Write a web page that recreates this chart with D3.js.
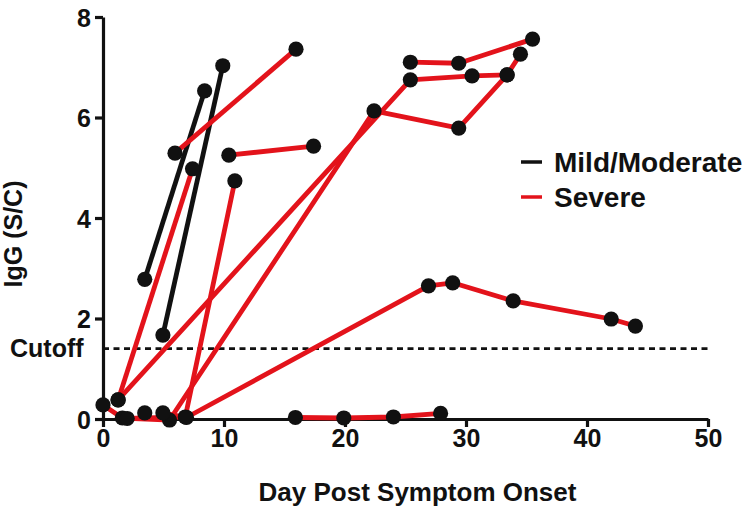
<!DOCTYPE html>
<html>
<head>
<meta charset="utf-8">
<script src="https://cdn.jsdelivr.net/npm/d3@7"></script>
<style>
  html, body { margin: 0; padding: 0; background: #ffffff; }
  svg { display: block; }
  text { font-family: "Liberation Sans", Arial, Helvetica, sans-serif; font-weight: bold; fill: #111; }
</style>
</head>
<body>
<svg id="chart" width="751" height="525"></svg>
<script>
// ---- data: [day, IgG S/C] per subject ----
const mild1 = [[3.45, 2.78], [8.4, 6.53]];
const mild2 = [[4.95, 1.67], [9.9, 7.03]];

const severe1 = [[0, 0.28], [1.6, 0.02], [5.5, -0.02], [22.4, 6.13], [29.4, 5.79], [33.4, 6.85], [34.5, 7.26]];
const severe2 = [[1.25, 0.38], [7.4, 4.98]];
const severe3 = [[1.25, 0.38], [25.4, 6.75], [30.5, 6.83], [33.4, 6.85]];
const severe4 = [[2.0, 0.01], [6.8, 0.04], [10.9, 4.74]];
const severe5 = [[4.95, 0.12], [6.9, 0.03], [26.9, 2.65], [28.9, 2.71], [33.9, 2.35], [42.0, 1.99], [44.0, 1.85]];
const severe6 = [[3.45, 0.12]];
const severe7 = [[5.95, 5.29], [15.95, 7.36]];
const severe8 = [[10.4, 5.25], [17.4, 5.43]];
const severe9 = [[25.4, 7.10], [29.4, 7.08], [35.5, 7.56]];
const severe10 = [[15.9, 0.03], [19.9, 0.02], [24.0, 0.04], [27.9, 0.11]];

const mildSubjects = [mild1, mild2];
const severeSubjects = [severe1, severe2, severe3, severe4, severe5, severe6, severe7, severe8, severe9, severe10];

const cutoffValue = 1.4;
const cutoffLabel = "Cutoff";
const xTicks = [0, 10, 20, 30, 40, 50];
const yTicks = [0, 2, 4, 6, 8];
const legendLabels = ["Mild/Moderate", "Severe"];
const xTitle = "Day Post Symptom Onset";
const yTitle = "IgG (S/C)";

// ---- drawing ----
const RED = "#e3131b";
const BLACK = "#111111";
const svg = d3.select("#chart");
svg.append("rect").attr("width", 751).attr("height", 525).attr("fill", "#ffffff");

const x = d3.scaleLinear().domain([0, 50]).range([103, 708]);
const y = d3.scaleLinear().domain([0, 8]).range([419, 17]);

// axes
const xAxis = svg.append("g").attr("transform", `translate(0,${y(0)})`)
  .call(d3.axisBottom(x).tickValues(xTicks).tickSize(8).tickPadding(2).tickSizeOuter(0));
const yAxis = svg.append("g").attr("transform", `translate(${x(0)},0)`)
  .call(d3.axisLeft(y).tickValues(yTicks).tickSize(8).tickPadding(4).tickSizeOuter(0));
[xAxis, yAxis].forEach(g => {
  g.select(".domain").attr("stroke", BLACK).attr("stroke-width", 3.2);
  g.selectAll(".tick line").attr("stroke", BLACK).attr("stroke-width", 3.2);
  g.selectAll(".tick text").attr("font-size", 25).attr("font-family", "Liberation Sans, Arial, sans-serif")
    .attr("font-weight", "bold").attr("fill", BLACK);
});
xAxis.selectAll(".tick text").attr("dy", "0.7em");
yAxis.selectAll(".tick text").attr("dy", "0.36em");

// cutoff dashed line
svg.append("line")
  .attr("x1", x(0)).attr("x2", x(50))
  .attr("y1", y(cutoffValue)).attr("y2", y(cutoffValue))
  .attr("stroke", BLACK).attr("stroke-width", 2.6)
  .attr("stroke-dasharray", "6,4.5");
svg.append("text").attr("x", 10).attr("y", y(cutoffValue) - 1)
  .attr("dy", "0.36em").attr("font-size", 25).text(cutoffLabel);

// lines
const line = d3.line().x(d => x(d[0])).y(d => y(d[1]));
svg.append("g").selectAll("path").data(mildSubjects).join("path")
  .attr("d", line).attr("fill", "none").attr("stroke", BLACK)
  .attr("stroke-width", 4.8).attr("stroke-linejoin", "round");
svg.append("g").selectAll("path").data(severeSubjects).join("path")
  .attr("d", line).attr("fill", "none").attr("stroke", RED)
  .attr("stroke-width", 4.8).attr("stroke-linejoin", "round");

// points
const allPts = mildSubjects.concat(severeSubjects).flat();
svg.append("g").selectAll("circle").data(allPts).join("circle")
  .attr("cx", d => x(d[0])).attr("cy", d => y(d[1])).attr("r", 7.6)
  .attr("fill", BLACK);

// legend
const legend = svg.append("g");
const legendColors = [BLACK, RED];
legendLabels.forEach((lab, i) => {
  const ly = 162 + i * 35;
  legend.append("line").attr("x1", 521).attr("x2", 542).attr("y1", ly).attr("y2", ly)
    .attr("stroke", legendColors[i]).attr("stroke-width", 3.5);
  legend.append("text").attr("x", 554).attr("y", ly).attr("dy", "0.36em")
    .attr("font-size", 28).text(lab);
});

// titles
svg.append("text").attr("x", (x(0) + x(50)) / 2 + 12).attr("y", 501)
  .attr("text-anchor", "middle").attr("font-size", 26).text(xTitle);
svg.append("text").attr("transform", `translate(22,234) rotate(-90)`)
  .attr("text-anchor", "middle").attr("font-size", 25).text(yTitle);
</script>
</body>
</html>
